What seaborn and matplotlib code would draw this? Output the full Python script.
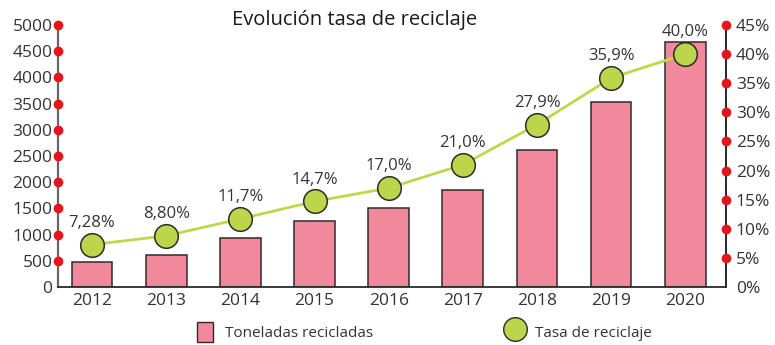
import matplotlib
matplotlib.use("Agg")
import matplotlib.pyplot as plt
from matplotlib.patches import Patch
from matplotlib.lines import Line2D
import seaborn as sns
import pandas as pd

years = ["2012", "2013", "2014", "2015", "2016", "2017", "2018", "2019", "2020"]
toneladas = [480, 610, 935, 1260, 1510, 1850, 2615, 3530, 4675]
tasa = [7.28, 8.80, 11.7, 14.7, 17.0, 21.0, 27.9, 35.9, 40.0]
tasa_labels = ["7,28%", "8,80%", "11,7%", "14,7%", "17,0%", "21,0%", "27,9%", "35,9%", "40,0%"]
left_ticks = [0, 500, 1000, 1500, 2000, 2500, 3000, 3500, 4000, 4500, 5000]
right_ticks = [0, 5, 10, 15, 20, 25, 30, 35, 40, 45]

sns.set_theme(style="white")
plt.rcParams["font.family"] = ["Open Sans", "DejaVu Sans"]

TXT = "#333333"
BAR = "#f2889c"
GREEN = "#bcd54a"
LINE = "#bdd84a"
RED = "#e8141c"

df = pd.DataFrame({"year": years, "toneladas": toneladas, "tasa": tasa,
                   "pos": range(len(years))})

fig = plt.figure(figsize=(7.75, 3.45), dpi=100)
ax = fig.add_axes([0.0748, 0.168, 0.862, 0.7595])

sns.barplot(data=df, x="year", y="toneladas", color=BAR, width=0.55,
            edgecolor="#2b2b2b", linewidth=1.1, saturation=1, ax=ax)
ax.set_xlim(-0.46, 8.55)
ax.set_ylim(0, 5000)
ax.set_yticks(left_ticks)
ax.set_yticklabels([str(t) for t in left_ticks])
ax.set_xlabel("")
ax.set_ylabel("")

ax2 = ax.twinx()
sns.lineplot(data=df, x="pos", y="tasa", color=LINE, linewidth=2, ax=ax2, zorder=3)
ax2.plot(df["pos"], df["tasa"], linestyle="none", marker="o", markersize=17,
         markerfacecolor=GREEN, markeredgecolor="#2b2b2b", markeredgewidth=1.1,
         zorder=4)
ax2.set_ylim(0, 45)
ax2.set_yticks(right_ticks)
ax2.set_yticklabels([f"{t}%" for t in right_ticks])
ax2.set_xlabel("")
ax2.set_ylabel("")
ax2.set_xlim(-0.46, 8.55)

for x, y, lab in zip(df["pos"], tasa, tasa_labels):
    ax2.annotate(lab, (x, y), xytext=(0, 10), textcoords="offset points",
                 ha="center", va="bottom", fontsize=12, color=TXT)

for a in (ax, ax2):
    a.spines["top"].set_visible(False)
    a.tick_params(length=0, labelsize=12.5, labelcolor=TXT)
    a.grid(False)
ax.tick_params(axis="y", pad=4)
ax2.tick_params(axis="y", pad=7)
ax.tick_params(axis="x", pad=4)
ax.spines["left"].set_color("#666666")
ax.spines["left"].set_linewidth(1.6)
ax.spines["bottom"].set_color("#2b2b2b")
ax.spines["bottom"].set_linewidth(1.3)
ax2.spines["right"].set_color("#2b2b2b")
ax2.spines["right"].set_linewidth(1.3)
ax2.spines["left"].set_visible(False)
ax2.spines["bottom"].set_visible(False)

# red dots on each axis at the tick values
ax.plot([0] * (len(left_ticks) - 1), left_ticks[1:], linestyle="none", marker="o",
        markersize=6, color=RED, transform=ax.get_yaxis_transform(),
        clip_on=False, zorder=6)
ax2.plot([1] * (len(right_ticks) - 1), right_ticks[1:], linestyle="none", marker="o",
         markersize=6, color=RED, transform=ax2.get_yaxis_transform(),
         clip_on=False, zorder=6)

fig.text(0.458, 0.942, "Evolución tasa de reciclaje", ha="center", va="center",
         fontsize=14.5, color="#1a1a1a")

handles = [Patch(facecolor=BAR, edgecolor="#2b2b2b", linewidth=1.0),
           Line2D([], [], linestyle="none", marker="o", markersize=17,
                  markerfacecolor=GREEN, markeredgecolor="#2b2b2b",
                  markeredgewidth=1.0)]
fig.legend(handles, ["Toneladas recicladas", "Tasa de reciclaje"], ncol=2,
           loc="lower left", bbox_to_anchor=(0.237, -0.03), frameon=False,
           fontsize=11, columnspacing=8.8, handlelength=1.0, handleheight=1.6,
           handletextpad=0.8, labelcolor=TXT)

fig.savefig("out.png", dpi=100)
